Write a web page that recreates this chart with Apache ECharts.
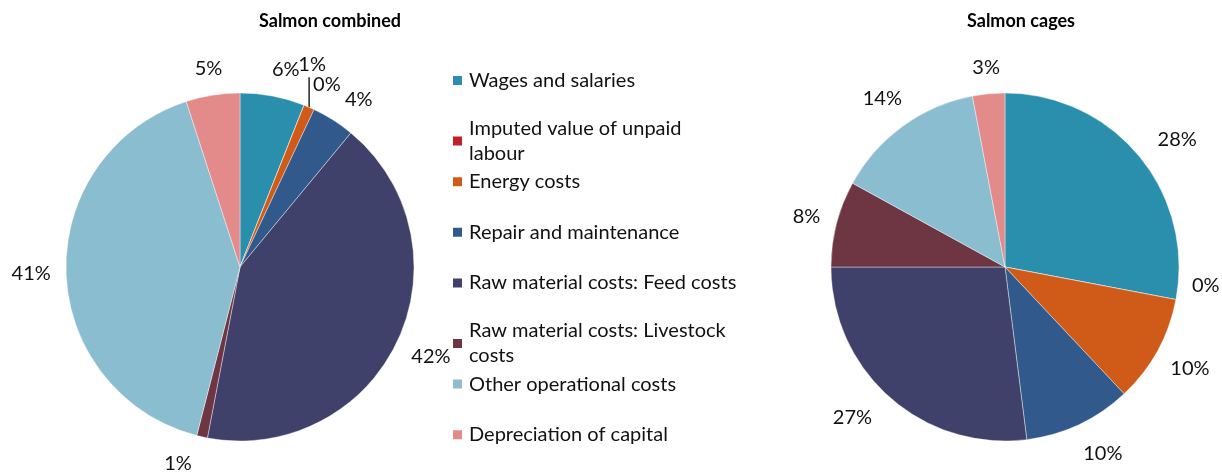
<!DOCTYPE html>
<html>
<head>
<meta charset="utf-8">
<script src="https://cdn.jsdelivr.net/npm/echarts@6/dist/echarts.min.js"></script>
<style>
  html, body { margin: 0; padding: 0; background: #fff; }
  #main { width: 1222px; height: 472px; }
</style>
</head>
<body>
<div id="main"></div>
<script>
// categories and values (percent)
var categories = [
    'Wages and salaries',
    'Imputed value of unpaid labour',
    'Energy costs',
    'Repair and maintenance',
    'Raw material costs: Feed costs',
    'Raw material costs: Livestock costs',
    'Other operational costs',
    'Depreciation of capital'
];
var legendLabels = [
    'Wages and salaries',
    'Imputed value of unpaid\nlabour',
    'Energy costs',
    'Repair and maintenance',
    'Raw material costs: Feed costs',
    'Raw material costs: Livestock\ncosts',
    'Other operational costs',
    'Depreciation of capital'
];
var combinedValues = [6, 0, 1, 4, 42, 1, 41, 5];
var cagesValues = [28, 0, 10, 10, 27, 8, 14, 3];
var colors = ['#2A8FAD', '#C0202A', '#D05A18', '#31598C', '#3F416A', '#6E3642', '#8BBDD0', '#E38A8B'];

var font = 'Lato, "Open Sans", sans-serif';
var R = 174;
var centers = [[240, 267], [1005, 267]];
var allValues = [combinedValues, cagesValues];
// label that Excel lifted out with a leader line (series 0, Energy costs)
var leader = { series: 0, index: 2 };
// small label shifts ("series-index": [dx, dy]) where Excel's best-fit moved them
var nudges = {
    '0-0': [8, 0], '0-1': [12, 7], '0-3': [9, 6], '0-5': [-18, 0],
    '1-0': [10, 7], '1-1': [0, -20], '1-3': [10, 0], '1-4': [-14, -7]
};

var chart = echarts.init(document.getElementById('main'));

function midAngle(values, idx) {
    var total = values.reduce(function (a, b) { return a + b; }, 0);
    var before = 0;
    for (var i = 0; i < idx; i++) before += values[i];
    return (before + values[idx] / 2) / total * Math.PI * 2;
}

function pieData(values, s) {
    return categories.map(function (c, i) {
        var d = { name: c, value: values[i] };
        if (s === leader.series && i === leader.index) {
            d.labelLine = { show: true, lineStyle: { color: '#000', width: 1.3 } };
        }
        return d;
    });
}

function pieSeries(name, s) {
    return {
        name: name,
        type: 'pie',
        radius: R,
        center: centers[s],
        startAngle: 90,
        clockwise: true,
        data: pieData(allValues[s], s),
        itemStyle: { borderColor: '#fff', borderWidth: 0.4 },
        label: {
            show: true,
            position: 'outside',
            overflow: 'none',
            formatter: function (p) { return p.value + '%'; },
            color: '#111',
            fontSize: 20,
            fontFamily: font
        },
        labelLine: { show: false, length: 10, length2: 3 },
        labelLayout: function (p) {
            var s = p.seriesIndex;
            var a = midAngle(allValues[s], p.dataIndex);
            var dx = Math.sin(a), dy = -Math.cos(a);
            var c = centers[s];
            var hw = p.labelRect.width / 2, hh = p.labelRect.height / 2;
            if (s === leader.series && p.dataIndex === leader.index) {
                var ex = c[0] + R * dx, ey = c[1] + R * dy;
                return {
                    x: ex + 3, y: ey - 43, align: 'center', verticalAlign: 'middle',
                    labelLinePoints: [[ex, ey], [ex, ey - 30], [ex, ey - 30]]
                };
            }
            // distance so the label box sits a fixed gap outside the rim
            var ext = hw * Math.abs(dx) + hh * Math.abs(dy);
            var d = R + 15 + ext;
            var x = c[0] + d * dx, y = c[1] + d * dy;
            var n = nudges[s + '-' + p.dataIndex];
            if (n) { x += n[0]; y += n[1]; }
            return { x: x, y: y, align: 'center', verticalAlign: 'middle' };
        },
        emphasis: { disabled: true }
    };
}

var legends = categories.map(function (c, i) {
    return {
        orient: 'vertical',
        left: 451,
        top: 68 + i * 50.6,
        padding: 0,
        data: [c],
        icon: 'rect',
        itemWidth: 11,
        itemHeight: 11,
        itemGap: 0,
        selectedMode: false,
        formatter: function () { return legendLabels[i]; },
        textStyle: {
            fontSize: 20,
            fontFamily: font,
            color: '#111',
            lineHeight: 25,
            height: 25,
            padding: [0, 0, 0, 1]
        }
    };
});

var option = {
    color: colors,
    animation: false,
    title: [
        { text: 'Salmon combined', left: 325, top: 7, textAlign: 'center',
          textStyle: { fontSize: 18, fontWeight: 'bold', fontFamily: font, color: '#000' } },
        { text: 'Salmon cages', left: 1016, top: 7, textAlign: 'center',
          textStyle: { fontSize: 18, fontWeight: 'bold', fontFamily: font, color: '#000' } }
    ],
    legend: legends,
    series: [
        pieSeries('Salmon combined', 0),
        pieSeries('Salmon cages', 1)
    ]
};

chart.setOption(option);
</script>
</body>
</html>
